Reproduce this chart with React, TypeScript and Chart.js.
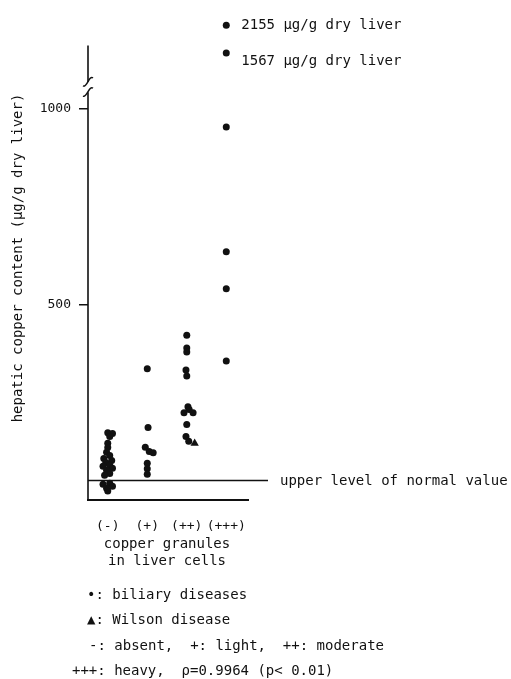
import React, { useEffect, useRef } from 'react';
import { Chart, registerables } from 'chart.js';

Chart.register(...registerables);

// ---- data ----
const CATEGORIES = ['(-)', '(+)', '(++)', '(+++)'];

const ABSENT_VALUES = [172, 170, 162, 145, 134, 122, 114, 106, 101, 96, 89, 86, 81, 76, 68, 63, 43, 40, 35, 30, 23];
const ABSENT_JITTER = [0, 0.12, 0.05, 0, 0, -0.03, 0.05, -0.1, 0.1, -0.05, 0.05, -0.12, 0.12, -0.03, 0.05, -0.08, 0.05, -0.12, 0.12, -0.03, 0];

const LIGHT_VALUES = [335, 185, 135, 124, 121, 94, 80, 66];
const LIGHT_JITTER = [0, 0.02, -0.05, 0.05, 0.15, 0, 0, 0];

const MODERATE_VALUES = [421, 388, 378, 332, 317, 238, 231, 223, 223, 193, 162, 150];
const MODERATE_JITTER = [0, 0, 0, -0.02, 0, 0.03, 0.06, -0.07, 0.16, 0, -0.02, 0.05];

const HEAVY_VALUES = [2155, 1567, 953, 634, 540, 355];
const HEAVY_JITTER = [0, 0, 0, 0, 0, 0];

const WILSON_CATEGORY = [3];
const WILSON_VALUES = [145];
const WILSON_JITTER = [0.2];

const Y_TICKS = [500, 1000];
const NORMAL_UPPER = 50;
const OUTLIER_LABELS = ['2155 µg/g dry liver', '1567 µg/g dry liver'];

const Y_TITLE = 'hepatic copper content (µg/g dry liver)';
const X_TITLE = ['copper granules', 'in liver cells'];
const NORMAL_LABEL = 'upper level of normal value';
const NOTES = [
  '•: biliary diseases',
  '▲: Wilson disease',
  '-: absent,  +: light,  ++: moderate',
  '+++: heavy,  ρ=0.9964 (p< 0.01)',
];

// broken axis: values above the break are compressed
const BREAK_THRESHOLD = 1100;
const UPPER_BASE = 953;
const UPPER_SCALE = 0.1207;
const axisValue = (v: number) => (v > BREAK_THRESHOLD ? UPPER_BASE + v * UPPER_SCALE : v);

const Y_MAX = 1237;
const AXIS_TOP = 1161;
const BREAK_LOW = 1042;
const BREAK_HIGH = 1068;

const INK = '#111';
const FONT = "'DejaVu Sans Mono', monospace";

function points(cat: number, values: number[], jitter: number[]) {
  return values.map((v, i) => ({ x: cat + jitter[i], y: axisValue(v) }));
}

const decorations = {
  id: 'decorations',
  afterDraw(chart: any) {
    const { ctx, chartArea } = chart;
    const x = chart.scales.x;
    const y = chart.scales.y;
    const ax = chartArea.left;
    ctx.save();
    ctx.strokeStyle = INK;
    ctx.fillStyle = INK;
    ctx.lineWidth = 1.6;

    // y axis line with break
    ctx.beginPath();
    ctx.moveTo(ax, y.getPixelForValue(0));
    ctx.lineTo(ax, y.getPixelForValue(BREAK_LOW));
    ctx.moveTo(ax, y.getPixelForValue(BREAK_HIGH));
    ctx.lineTo(ax, y.getPixelForValue(AXIS_TOP));
    ctx.stroke();

    ctx.lineWidth = 1.5;
    for (const v of [BREAK_LOW, BREAK_HIGH]) {
      const py = y.getPixelForValue(v);
      ctx.beginPath();
      ctx.moveTo(ax - 5, py + 4);
      ctx.bezierCurveTo(ax - 1, py + 6, ax + 1, py - 7, ax + 5, py - 4);
      ctx.stroke();
    }

    // upper normal line
    const ny = y.getPixelForValue(NORMAL_UPPER);
    ctx.lineWidth = 1.5;
    ctx.beginPath();
    ctx.moveTo(ax, ny);
    ctx.lineTo(chartArea.right + 20, ny);
    ctx.stroke();

    ctx.font = `14px ${FONT}`;
    ctx.textBaseline = 'middle';
    ctx.textAlign = 'left';
    ctx.fillText(NORMAL_LABEL, chartArea.right + 32, ny + 1);

    // outlier labels
    const heavyX = x.getPixelForValue(4);
    OUTLIER_LABELS.forEach((t, i) => {
      const py = y.getPixelForValue(axisValue(HEAVY_VALUES[i]));
      ctx.fillText(t, heavyX + 15, py + (i === 0 ? 0 : 8));
    });

    // y title
    ctx.save();
    ctx.translate(18, 258);
    ctx.rotate(-Math.PI / 2);
    ctx.textAlign = 'center';
    ctx.fillText(Y_TITLE, 0, 0);
    ctx.restore();

    // x title
    const cx = (x.getPixelForValue(1) + x.getPixelForValue(4)) / 2;
    ctx.textAlign = 'center';
    ctx.fillText(X_TITLE[0], cx, 544);
    ctx.fillText(X_TITLE[1], cx, 561);

    // notes
    ctx.textAlign = 'left';
    ctx.fillText(NOTES[0], 87, 595);
    ctx.fillText(NOTES[1], 87, 620);
    ctx.fillText(NOTES[2], 89, 646);
    ctx.fillText(NOTES[3], 72, 671);
    ctx.restore();
  },
};

export default function App() {
  const ref = useRef<HTMLCanvasElement>(null);

  useEffect(() => {
    if (!ref.current) return;
    const biliary = [
      ...points(1, ABSENT_VALUES, ABSENT_JITTER),
      ...points(2, LIGHT_VALUES, LIGHT_JITTER),
      ...points(3, MODERATE_VALUES, MODERATE_JITTER),
      ...points(4, HEAVY_VALUES, HEAVY_JITTER),
    ];
    const wilson = WILSON_VALUES.map((v, i) => ({ x: WILSON_CATEGORY[i] + WILSON_JITTER[i], y: axisValue(v) }));

    const chart = new Chart(ref.current, {
      type: 'scatter',
      data: {
        datasets: [
          {
            label: 'biliary diseases',
            data: biliary,
            pointStyle: 'circle',
            pointRadius: 3.5,
            backgroundColor: INK,
            borderColor: INK,
            borderWidth: 0,
            clip: false,
          },
          {
            label: 'Wilson disease',
            data: wilson,
            pointStyle: 'triangle',
            pointRadius: 4.8,
            backgroundColor: INK,
            borderColor: INK,
            borderWidth: 0,
            clip: false,
          },
        ],
      },
      plugins: [decorations],
      options: {
        responsive: false,
        devicePixelRatio: 1,
        animation: false,
        layout: { padding: { left: 0, top: 12, right: 263, bottom: 0 } },
        plugins: {
          legend: { display: false },
          tooltip: { enabled: false },
          title: { display: false },
        },
        scales: {
          x: {
            type: 'linear',
            min: 0.5,
            max: 4.55,
            afterBuildTicks: (scale: any) => {
              scale.ticks = CATEGORIES.map((_, i) => ({ value: i + 1 }));
            },
            afterFit: (scale: any) => {
              scale.height = 179;
            },
            ticks: {
              callback: (v: any) => CATEGORIES[Math.round(Number(v)) - 1] ?? '',
              color: INK,
              font: { family: FONT, size: 13 },
              padding: 11,
              maxRotation: 0,
              autoSkip: false,
            },
            grid: { display: false },
            border: { display: true, color: INK, width: 2 },
          },
          y: {
            type: 'linear',
            min: 0,
            max: Y_MAX,
            afterBuildTicks: (scale: any) => {
              scale.ticks = Y_TICKS.map((v) => ({ value: v }));
            },
            afterFit: (scale: any) => {
              scale.width = 88;
            },
            ticks: {
              callback: (v: any) => String(v),
              color: INK,
              font: { family: FONT, size: 13 },
              padding: 8,
              autoSkip: false,
            },
            grid: {
              display: true,
              drawOnChartArea: false,
              drawTicks: true,
              tickLength: 9,
              color: INK,
              lineWidth: 1.5,
            },
            border: { display: false },
          },
        },
      },
    } as any);

    return () => chart.destroy();
  }, []);

  return (
    <div style={{ position: 'absolute', left: 0, top: 0, width: 511, height: 679, background: '#fff' }}>
      <canvas ref={ref} width={511} height={679} style={{ display: 'block', width: 511, height: 679 }} />
    </div>
  );
}
